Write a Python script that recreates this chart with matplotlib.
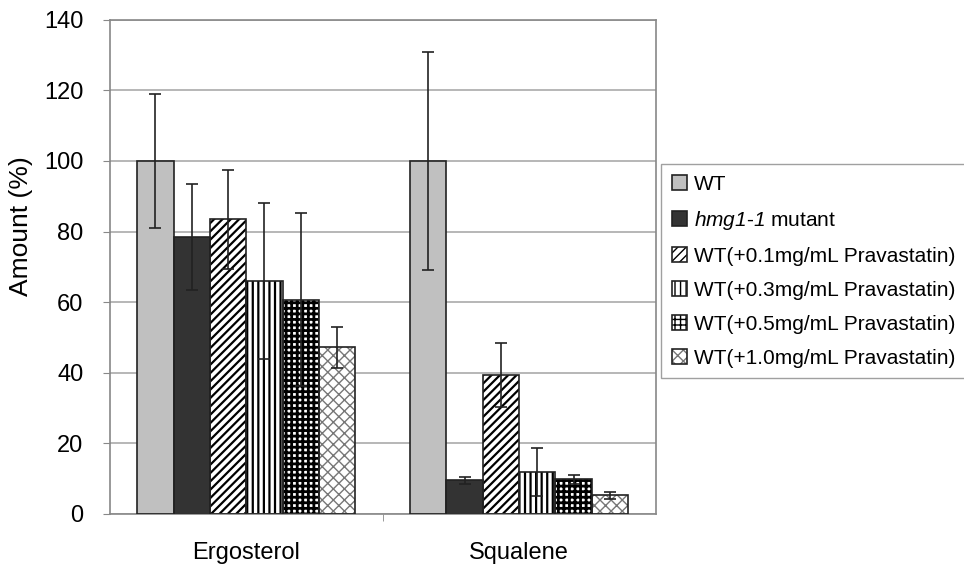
import matplotlib
matplotlib.use("Agg")
import matplotlib.pyplot as plt
import numpy as np
from matplotlib.legend_handler import HandlerTuple

plt.rcParams["font.family"] = ["Liberation Sans", "DejaVu Sans"]
plt.rcParams["mathtext.fontset"] = "custom"
plt.rcParams["mathtext.rm"] = "Liberation Sans"
plt.rcParams["mathtext.sf"] = "Liberation Sans:italic"

categories = ["Ergosterol", "Squalene"]
series = [
    "WT",
    "$\\mathsf{hmg1}$-$\\mathsf{1}$ mutant",
    "WT(+0.1mg/mL Pravastatin)",
    "WT(+0.3mg/mL Pravastatin)",
    "WT(+0.5mg/mL Pravastatin)",
    "WT(+1.0mg/mL Pravastatin)",
]
values = [
    [100.0, 100.0],
    [78.5, 9.5],
    [83.5, 39.3],
    [66.0, 12.0],
    [60.7, 9.8],
    [47.2, 5.3],
]
errors = [
    [19.0, 31.0],
    [15.0, 1.0],
    [14.0, 9.0],
    [22.0, 6.8],
    [24.5, 1.2],
    [5.8, 1.0],
]

# style per series: face, hatch, hatch colour, hatch linewidth
styles = [
    ("#c0c0c0", "", "black", 1.0),
    ("#333333", "", "black", 1.0),
    ("white", "////", "black", 1.6),
    ("white", "|||", "black", 1.6),
    ("white", "+++", "black", 2.0),
    ("white", "xxx", "#777777", 1.0),
]

fig = plt.figure(figsize=(9.64, 5.66), dpi=100)
ax = fig.add_axes([0.114, 0.092, 0.566, 0.873])

x = np.arange(len(categories))
n = len(series)
width = 0.8 / n
handles = []
for i, (name, vals, errs, st) in enumerate(zip(series, values, errors, styles)):
    face, hatch, hcol, hlw = st
    pos = x - 0.4 + width * (i + 0.5)
    with plt.rc_context({"hatch.linewidth": hlw}):
        b1 = ax.bar(pos, vals, width, color=face, hatch=hatch, edgecolor=hcol,
                    linewidth=0, zorder=2)
    b2 = ax.bar(pos, vals, width, facecolor="none", edgecolor="#222222",
                linewidth=1.2, zorder=3)
    ax.errorbar(pos, vals, yerr=errs, fmt="none", ecolor="#222222",
                elinewidth=1.2, capsize=4, capthick=1.2, zorder=4)
    handles.append((b1, b2))

ax.set_xlim(-0.5, 1.5)
ax.set_ylim(0, 140)
ax.set_yticks(range(0, 141, 20))
ax.set_xticks(x)
ax.set_xticklabels(categories, fontsize=17)
ax.tick_params(axis="x", length=0, pad=20)
ax.set_xticks([0.5], minor=True)
ax.tick_params(axis="x", which="minor", length=5, color="#888888")
ax.tick_params(axis="y", labelsize=17, length=5, color="#888888", pad=14)
ax.set_ylabel("Amount (%)", fontsize=19)
ax.yaxis.set_label_coords(-0.141, 0.583)
ax.grid(axis="y", color="#aaaaaa", linewidth=1.2, zorder=0)
ax.set_axisbelow(True)
for s in ax.spines.values():
    s.set_color("#888888")
    s.set_linewidth(1.2)

leg = fig.legend(handles, series, handler_map={tuple: HandlerTuple(ndivide=1)},
                 loc="upper left", bbox_to_anchor=(0.686, 0.710), fontsize=15,
                 frameon=True, fancybox=False, edgecolor="#888888",
                 handlelength=0.75, handleheight=0.75, handletextpad=0.3,
                 labelspacing=0.72, borderpad=0.5, borderaxespad=0)
leg.get_frame().set_linewidth(1.0)

fig.savefig("out.png", dpi=100)
